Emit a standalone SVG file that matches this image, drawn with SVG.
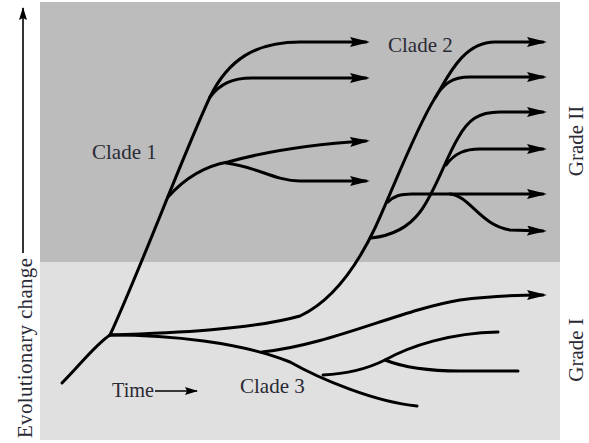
<svg xmlns="http://www.w3.org/2000/svg" width="589" height="443" viewBox="0 0 589 443">
<style>
.br{fill:none;stroke:#000;stroke-width:3;stroke-linecap:round}
.ar{marker-end:url(#ah)}
.lbl{font-family:"Liberation Serif","Times New Roman",serif;font-size:21px;fill:#2a2a35}
.thin{fill:none;stroke:#000;stroke-width:1.6}
</style>
<defs>
<marker id="ah" markerUnits="userSpaceOnUse" markerWidth="22" markerHeight="12" refX="16" refY="5" orient="auto" viewBox="0 0 22 12">
<path d="M0,0 L20,5 L0,10 L3,5 Z" fill="#000"/>
</marker>
<marker id="sh" markerUnits="userSpaceOnUse" markerWidth="14" markerHeight="9" refX="12" refY="4" orient="auto" viewBox="0 0 14 9">
<path d="M0,0 L13,4 L0,8 L2,4 Z" fill="#000"/>
</marker>
</defs>
<g id="background">
<rect x="40" y="2" width="520" height="260" fill="#bcbcbc"/>
<rect x="40" y="262" width="520" height="178" fill="#e0e0e0"/>
</g>
<g id="axis">
<line class="thin" x1="23" y1="253" x2="23" y2="8" marker-end="url(#sh)"/>
<text class="lbl" transform="translate(32,438) rotate(-90)" textLength="180" lengthAdjust="spacing">Evolutionary change</text>
<line class="thin" x1="155" y1="391" x2="197" y2="391" marker-end="url(#sh)"/>
<text class="lbl" x="112" y="397" textLength="42" lengthAdjust="spacingAndGlyphs">Time</text>
</g>
<g id="connectors">
<path class="br" d="M62,383 C80,365 95,345 110,335"/>
<!-- Clade 1 -->
<path class="br ar" d="M110,335 C138,275 185,150 210,97 C228,60 255,42 300,42 L366,42"/>
<path class="br ar" d="M210,97 C220,84 232,78 252,78 L366,78"/>
<path class="br ar" d="M168,197 C185,178 205,166 228,162 C260,153 300,145 366,141"/>
<path class="br ar" d="M226,163 C255,166 275,181 300,181 L366,181"/>
<!-- Clade 2 -->
<path class="br ar" d="M110,335 C170,333 250,330 300,316 C330,302 355,270 375,228 C391,194 415,130 435,98 C447,79 462,42 495,42 L543,42"/>
<path class="br ar" d="M435,98 C443,84 452,77 470,77 L543,77"/>
<path class="br ar" d="M371,238 C390,236 408,228 420,212 C435,192 445,160 458,138 C468,120 478,112 500,112 L543,112"/>
<path class="br ar" d="M446,165 C455,153 465,149 480,149 L543,149"/>
<path class="br ar" d="M388,202 C394,196 400,194 412,194 L543,194"/>
<path class="br ar" d="M450,194 C470,196 480,225 510,230 L543,231"/>
<!-- Clade 3 -->
<path class="br" d="M110,335 C170,335 240,342 290,362 C320,379 375,402 417,406"/>
<path class="br ar" d="M262,352 C330,345 400,310 460,300 C490,296 520,295 543,295"/>
<path class="br" d="M323,375 C345,374 365,370 385,360 C410,346 450,333 498,332"/>
<path class="br" d="M385,360 C400,366 420,371 460,371 L518,371"/>
</g>
<g id="labels">
<text class="lbl" x="92" y="159">Clade 1</text>
<text class="lbl" x="388" y="52">Clade 2</text>
<text class="lbl" x="240" y="393">Clade 3</text>
<text class="lbl" transform="translate(583,141) rotate(-90)" text-anchor="middle">Grade II</text>
<text class="lbl" transform="translate(583,350) rotate(-90)" text-anchor="middle">Grade I</text>
</g>
</svg>
